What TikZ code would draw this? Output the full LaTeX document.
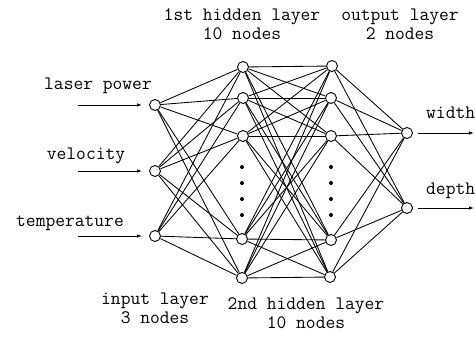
\documentclass[tikz,border=0pt]{standalone}
\usetikzlibrary{arrows.meta}
\begin{document}
\begin{tikzpicture}[x=1pt,y=-1pt,
  neuron/.style={circle,draw,line width=0.9pt,minimum size=11pt,inner sep=0pt},
  link/.style={line width=0.85pt},
  dotmark/.style={circle,fill,inner sep=0pt,minimum size=4pt},
  lbl/.style={font=\ttfamily\fontsize{19}{19}\selectfont,inner sep=0pt,align=center},
  io/.style={line width=0.9pt,-{Latex[length=5pt,width=3.5pt]}}]
\useasboundingbox (0,0) rectangle (475,343);
% input layer
\node[neuron] (i1) at (155,105) {};
\node[neuron] (i2) at (155,171) {};
\node[neuron] (i3) at (155,236) {};
% hidden layer 1
\node[neuron] (a1) at (243,67) {};
\node[neuron] (a2) at (243,98) {};
\node[neuron] (a3) at (243,136) {};
\node[neuron] (a4) at (242,239) {};
\node[neuron] (a5) at (242,278) {};
% hidden layer 2
\node[neuron] (b1) at (332,66) {};
\node[neuron] (b2) at (331,98) {};
\node[neuron] (b3) at (331,136) {};
\node[neuron] (b4) at (331,240) {};
\node[neuron] (b5) at (330,277) {};
% output layer
\node[neuron] (o1) at (407,133) {};
\node[neuron] (o2) at (407,208) {};
% dots
\foreach \y [count=\k] in {167,183,199,215}{
  \node[dotmark] (da\k) at (242,\y) {};
  \node[dotmark] (db\k) at (331,\y) {};
}
% connections
\foreach \i in {i1,i2,i3}{\foreach \a in {a1,a2,a3,a4,a5}{\draw[link] (\i) -- (\a);}}
\foreach \a in {a1,a2,a3,a4,a5}{\foreach \b in {b1,b2,b3,b4,b5}{\draw[link] (\a) -- (\b);}}
\foreach \b in {b1,b2,b3,b4,b5}{\foreach \o in {o1,o2}{\draw[link] (\b) -- (\o);}}
% input arrows
\coordinate (s1) at (78,105);
\coordinate (s2) at (78,171);
\coordinate (s3) at (78,236);
\draw[io,shorten >=7pt] (s1) -- (i1);
\draw[io,shorten >=7pt] (s2) -- (i2);
\draw[io,shorten >=7pt] (s3) -- (i3);
% output arrows
\coordinate (e1) at (474,133);
\coordinate (e2) at (474,208);
\draw[io,shorten <=5pt] (o1) -- (e1);
\draw[io,shorten <=5pt] (o2) -- (e2);
% labels
\node[lbl] (t1) at (242,24) {1st hidden layer\\10 nodes};
\node[lbl] (t2) at (400,24) {output layer\\2 nodes};
\node[lbl] (lp) at (98,86) {laser power};
\node[lbl] (lv) at (86,156) {velocity};
\node[lbl] (lt) at (70,223) {temperature};
\node[lbl,anchor=west] (lw) at (426,113) {width};
\node[lbl,anchor=west] (ld) at (426,191) {depth};
\node[lbl] (bi) at (155,308) {input layer\\3 nodes};
\node[lbl] (bh) at (306,313) {2nd hidden layer\\10 nodes};
\end{tikzpicture}
\end{document}
